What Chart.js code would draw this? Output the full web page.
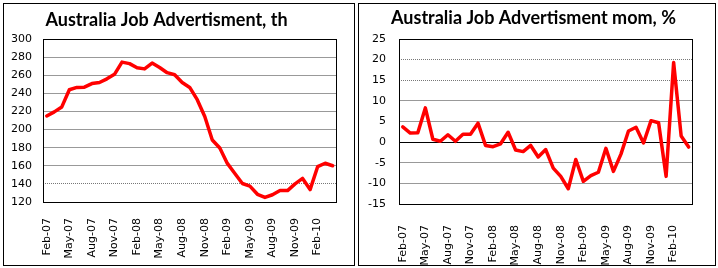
<!DOCTYPE html>
<html>
<head>
<meta charset="utf-8">
<script src="https://cdn.jsdelivr.net/npm/chart.js@4.4.1/dist/chart.umd.min.js"></script>
<style>
  body { margin: 0; background: #fff; }
  .box { position: absolute; top: 3px; height: 261px; border: 1px solid #000; background: #fff; }
  #box1 { left: 3px; width: 350px; }
  #box2 { left: 358px; width: 356px; }
  canvas { display: block; }
</style>
</head>
<body>
<div class="box" id="box1"><canvas id="levels" width="350" height="261"></canvas></div>
<div class="box" id="box2"><canvas id="changes" width="356" height="261"></canvas></div>
<script>
const months = [
  "Feb-07", "Mar-07", "Apr-07", "May-07", "Jun-07", "Jul-07", "Aug-07", "Sep-07", "Oct-07", "Nov-07", "Dec-07", "Jan-08",
  "Feb-08", "Mar-08", "Apr-08", "May-08", "Jun-08", "Jul-08", "Aug-08", "Sep-08", "Oct-08", "Nov-08", "Dec-08", "Jan-09",
  "Feb-09", "Mar-09", "Apr-09", "May-09", "Jun-09", "Jul-09", "Aug-09", "Sep-09", "Oct-09", "Nov-09", "Dec-09", "Jan-10",
  "Feb-10", "Mar-10", "Apr-10"
];

// job ads, thousands
const adverts = [
  215, 219.5, 225, 244, 246.5, 246.8, 250.8, 252, 256, 261, 274.5, 272.8,
  268.2, 267, 273.4, 268.5, 262.8, 260.5, 252, 246.5, 233, 214.4, 188.5, 179.6,
  162.6, 151.5, 140.4, 137.5, 128.5, 125, 128, 132.6, 132.6, 140, 146, 133.7,
  159, 162.8, 160
];

// month on month, %
const mom = [
  3.7, 2.2, 2.3, 8.3, 0.7, 0.2, 1.8, 0.2, 1.9, 1.9, 4.6, -0.8,
  -1.1, -0.4, 2.4, -1.9, -2.3, -0.8, -3.6, -1.8, -6.3, -8.3, -11.3, -4.2,
  -9.5, -8.1, -7.3, -1.5, -7.1, -2.9, 2.7, 3.6, -0.2, 5.2, 4.7, -8.3,
  19.3, 1.5, -1.2
];

const titles = ["Australia Job Advertisment, th", "Australia Job Advertisment mom, %"];

const tickFont = { family: "'DejaVu Sans', Verdana, sans-serif", size: 11 };

function frameAndTitle(text, cx, baseline) {
  return {
    id: "frameAndTitle",
    beforeDatasetsDraw(chart) {
      const a = chart.chartArea;
      const ctx = chart.ctx;
      ctx.save();
      ctx.strokeStyle = "#000";
      ctx.lineWidth = 1;
      ctx.strokeRect(Math.round(a.left) + 0.5, Math.round(a.top) + 0.5,
        Math.round(a.right) - Math.round(a.left), Math.round(a.bottom) - Math.round(a.top));
      ctx.restore();
    },
    afterDraw(chart) {
      const ctx = chart.ctx;
      ctx.save();
      ctx.font = "bold 18px Lato, 'Liberation Sans', sans-serif";
      ctx.fillStyle = "#000";
      ctx.textAlign = "center";
      ctx.textBaseline = "alphabetic";
      ctx.fillText(text, cx, baseline);
      ctx.restore();
    },
  };
}

function makeChart(id, values, o) {
  return new Chart(document.getElementById(id), {
    type: "line",
    data: {
      labels: months,
      datasets: [
        {
          data: values,
          borderColor: "#ff0000",
          borderWidth: 3.5,
          pointRadius: 0,
          tension: 0,
          borderJoinStyle: "round",
          borderCapStyle: "round",
        },
      ],
    },
    options: {
      responsive: false,
      animation: false,
      events: [],
      layout: { padding: { top: 35, right: 10, left: 0, bottom: 0 } },
      plugins: { legend: { display: false }, tooltip: { enabled: false } },
      scales: {
        x: {
          offset: true,
          grid: { display: false },
          border: { display: false },
          afterFit: (s) => { s.height = o.xHeight; },
          ticks: {
            autoSkip: false,
            maxRotation: 90,
            minRotation: 90,
            padding: o.xPad,
            color: "#000",
            font: tickFont,
            callback: function (v, i) {
              return i % 3 === 0 ? this.getLabelForValue(v) : "";
            },
          },
        },
        y: {
          min: o.min,
          max: o.max,
          afterFit: (s) => { s.width = o.yWidth; },
          grid: {
            drawTicks: false,
            color: (ctx) => (ctx.tick && ctx.tick.value === o.blackAt ? "#000" :
              o.dotted.includes(ctx.tick && ctx.tick.value) ? "#777" : "#999"),
          },
          border: {
            display: false,
            dash: (ctx) => (ctx.tick && o.dotted.includes(ctx.tick.value) ? [1, 1] : []),
          },
          ticks: {
            stepSize: o.step,
            padding: o.yPad,
            color: "#000",
            font: tickFont,
          },
        },
      },
    },
    plugins: [frameAndTitle(o.title, o.titleX, o.titleY)],
  });
}

makeChart("levels", adverts, {
  min: 120, max: 300, step: 20, dotted: [140], blackAt: null,
  yWidth: 39, xHeight: 63, yPad: 11, xPad: 8,
  title: titles[0], titleX: 162.5, titleY: 22,
});

makeChart("changes", mom, {
  min: -15, max: 25, step: 5, dotted: [15, 20], blackAt: 0,
  yWidth: 40, xHeight: 61, yPad: 13, xPad: 13,
  title: titles[1], titleX: 174.5, titleY: 20,
});
</script>
</body>
</html>
